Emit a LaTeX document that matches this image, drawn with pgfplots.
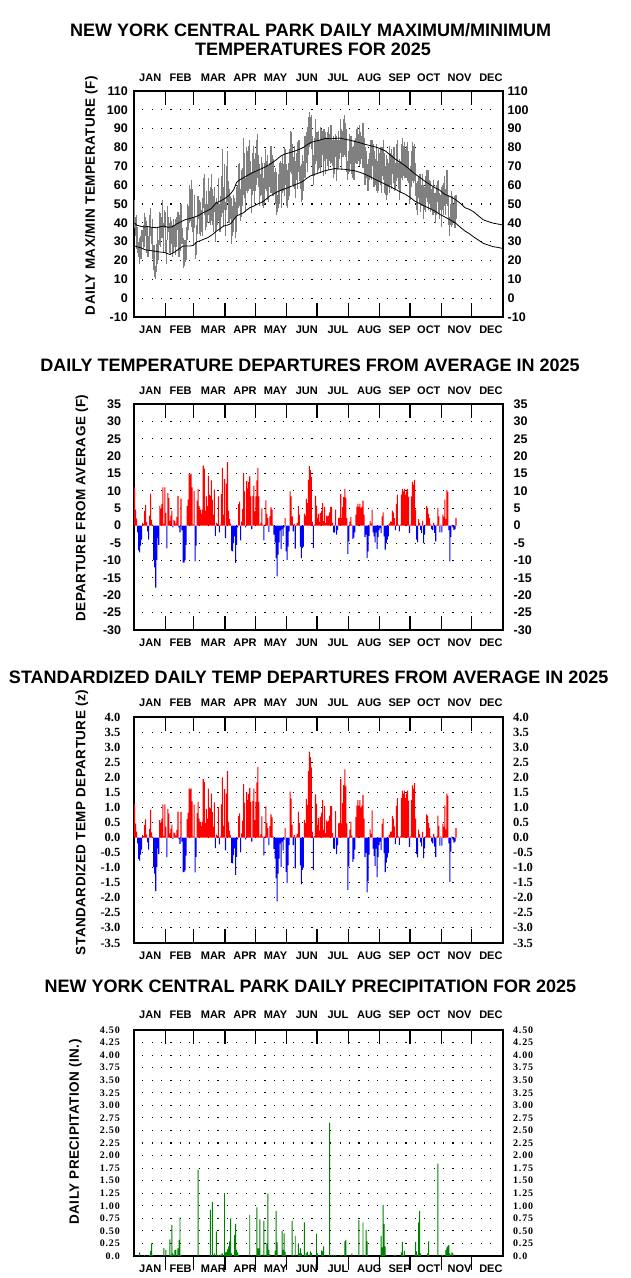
\documentclass[border=0pt]{standalone}
\usepackage{fontspec}
\setmainfont{Liberation Sans}
\newfontfamily\serifface{Liberation Serif}
\newfontfamily\serifspaced{Liberation Serif}[LetterSpace=8]
\newfontfamily\labface{Liberation Sans}[LetterSpace=3.3]
\usepackage{pgfplots}
\usepackage{pgfplotstable}
\pgfplotsset{compat=1.18}

\definecolor{bargreen}{RGB}{0,128,0}
\definecolor{bandgray}{RGB}{128,128,128}

\newcommand\ttlfont{\bfseries\fontsize{18}{20}\selectfont}
\newcommand\monfont{\bfseries\fontsize{11}{12}\selectfont}
\newcommand\labfont{\labface\bfseries\fontsize{13.5}{15}\selectfont}
\newcommand\tksans{\bfseries\fontsize{12.5}{13}\selectfont}
\newcommand\tkserif{\serifface\bfseries\fontsize{12.5}{13}\selectfont}
\newcommand\tksmall{\serifspaced\bfseries\fontsize{10}{11}\selectfont}

% day, departure (F), standardized departure, max, min
\pgfplotstableread{
d dep z hi lo
1 11.0 1.10 52 37
2 4.6 0.46 43 33
3 2.0 0.20 44 26
4 -1.9 -0.19 38 24
5 -7.1 -0.71 30 22
6 -7.7 -0.77 32 18
7 -5.7 -0.57 33 21
8 -4.0 -0.40 36 21
9 0.8 0.08 36 30
10 0.5 0.05 39 26
11 4.2 0.42 45 27
12 6.0 0.60 43 33
13 1.0 0.10 41 24
14 -1.6 -0.16 38 22
15 -4.0 -0.40 33 22
16 2.9 0.29 44 25
17 9.2 0.92 48 33
18 1.7 0.17 37 29
19 0.3 0.03 42 21
20 -9.8 -0.98 28 15
21 -12.0 -1.20 28 11
22 -17.8 -1.78 17 10
23 -9.8 -0.98 29 14
24 -3.6 -0.36 37 18
25 -5.5 -0.55 31 20
26 5.8 0.58 46 28
27 4.8 0.48 45 27
28 6.3 0.63 43 32
29 11.0 1.10 52 32
30 0.5 0.05 40 24
31 11.0 1.10 47 37
32 3.6 0.36 46 24
33 -6.5 -0.65 31 18
34 9.4 0.94 49 31
35 7.9 0.79 43 35
36 1.4 0.14 40 24
37 2.9 0.29 43 23
38 4.3 0.43 41 29
39 -0.5 -0.05 39 22
40 1.7 0.17 42 24
41 1.4 0.14 39 27
42 0.6 0.06 42 23
43 2.5 0.25 43 27
44 8.6 0.86 46 36
45 -0.5 -0.05 44 22
46 -1.9 -0.21 38 25
47 7.8 0.85 50 33
48 -1.3 -0.14 37 29
49 -10.6 -1.15 32 16
50 -10.6 -1.15 31 17
51 -10.0 -1.09 31 19
52 -5.5 -0.60 38 20
53 5.6 0.61 50 31
54 7.5 0.82 49 36
55 15.0 1.63 60 40
56 14.7 1.60 58 41
57 15.0 1.63 63 38
58 11.0 1.20 58 35
59 0.3 0.03 43 28
60 10.0 1.09 55 37
61 -10.3 -1.16 30 21
62 -5.7 -0.64 39 23
63 7.2 0.81 54 34
64 10.6 1.19 54 42
65 5.6 0.63 52 34
66 4.6 0.52 51 33
67 3.4 0.38 47 35
68 4.6 0.52 53 33
69 17.3 1.94 64 48
70 16.4 1.84 66 44
71 4.3 0.48 50 36
72 8.4 0.94 57 38
73 5.6 0.63 50 40
74 14.4 1.62 64 44
75 8.9 1.00 57 40
76 8.6 0.97 59 39
77 13.0 1.46 66 41
78 7.5 0.84 58 39
79 3.2 0.36 54 35
80 10.4 1.17 59 46
81 -2.9 -0.35 51 30
82 0.8 0.10 53 36
83 0.5 0.06 50 39
84 8.4 1.01 64 41
85 -1.9 -0.23 50 35
86 0.3 0.04 54 35
87 9.1 1.10 65 43
88 16.6 2.00 79 45
89 3.2 0.39 59 38
90 13.4 1.61 71 47
91 -3.6 -0.43 51 33
92 12.1 1.46 70 47
93 18.3 2.20 78 51
94 4.3 0.52 62 40
95 1.9 0.23 58 40
96 0.6 0.07 54 42
97 -7.2 -0.84 53 29
98 -7.4 -0.86 49 33
99 -5.0 -0.58 55 35
100 -3.1 -0.36 53 42
101 -10.7 -1.24 51 32
102 -5.5 -0.64 59 35
103 -0.5 -0.06 60 44
104 6.2 0.72 71 48
105 6.9 0.80 72 49
106 -4.2 -0.49 58 41
107 1.2 0.14 68 43
108 4.8 0.56 69 49
109 15.2 1.77 85 55
110 9.9 1.15 77 53
111 -0.5 -0.06 64 46
112 12.8 1.49 80 57
113 10.7 1.24 78 56
114 12.5 1.45 81 57
115 14.2 1.65 84 58
116 8.4 1.18 73 58
117 -1.0 -0.14 67 45
118 8.6 1.21 77 55
119 11.5 1.62 81 57
120 4.1 0.58 74 50
121 8.4 1.18 77 57
122 13.0 1.83 84 60
123 16.6 2.34 87 64
124 8.4 1.18 76 59
125 0.3 0.04 71 49
126 0.8 0.11 66 54
127 5.0 0.70 75 55
128 0.3 0.04 72 49
129 -4.2 -0.59 64 48
130 0.3 0.04 72 50
131 7.3 1.03 79 58
132 3.4 0.48 73 57
133 2.2 0.31 76 52
134 -1.8 -0.25 70 51
135 2.7 0.38 72 59
136 5.3 0.77 81 56
137 4.6 0.67 76 60
138 0.3 0.04 74 54
139 -2.6 -0.38 67 56
140 -4.8 -0.70 69 50
141 -9.3 -1.35 67 44
142 -14.6 -2.12 55 46
143 -8.3 -1.20 66 48
144 -4.8 -0.70 72 50
145 -1.4 -0.20 73 57
146 -6.7 -0.97 72 48
147 -1.0 -0.14 76 56
148 -3.0 -0.43 71 57
149 -0.5 -0.07 80 54
150 2.2 0.32 79 60
151 -7.4 -1.14 71 49
152 -9.8 -1.51 68 48
153 -6.0 -0.92 72 52
154 -1.6 -0.25 79 54
155 9.9 1.52 89 67
156 8.4 1.29 88 66
157 2.7 0.42 82 60
158 -1.6 -0.25 75 59
159 0.5 0.08 81 58
160 -6.6 -1.02 73 53
161 0.2 0.03 77 63
162 0.8 0.12 83 58
163 5.6 0.86 84 67
164 3.2 0.49 84 62
165 -6.0 -0.92 70 58
166 -9.3 -1.55 71 51
167 -6.4 -1.07 76 52
168 -6.0 -1.00 73 57
169 3.5 0.58 86 64
170 2.9 0.48 86 64
171 7.7 1.28 88 72
172 6.5 1.08 91 67
173 13.2 2.20 96 76
174 17.1 2.85 99 80
175 16.0 2.67 96 82
176 14.0 2.33 97 79
177 1.2 0.20 86 65
178 -6.4 -1.07 76 60
179 0.3 0.05 85 65
180 8.6 1.43 95 71
181 5.8 1.12 88 73
182 2.2 0.42 88 66
183 3.4 0.65 89 68
184 1.2 0.23 84 69
185 3.6 0.69 91 67
186 4.3 0.83 90 70
187 6.5 1.25 89 76
188 1.3 0.25 90 65
189 5.4 1.04 90 73
190 0.8 0.15 88 66
191 2.9 0.56 85 74
192 2.7 0.52 88 70
193 2.9 0.56 91 68
194 3.8 0.73 87 73
195 5.4 1.04 92 71
196 5.4 1.04 92 72
197 0.8 0.15 84 70
198 -1.9 -0.37 86 64
199 -2.0 -0.38 84 66
200 4.6 0.88 87 75
201 -2.6 -0.55 86 62
202 -1.2 -0.26 84 68
203 2.2 0.47 89 69
204 2.3 0.49 84 74
205 9.1 1.94 95 77
206 2.2 0.47 90 68
207 5.4 1.15 89 75
208 8.2 1.74 95 75
209 10.6 2.26 97 76
210 8.0 1.70 93 75
211 2.2 0.47 90 67
212 -8.2 -1.74 73 63
213 -4.5 -0.96 78 66
214 1.2 0.26 87 67
215 2.5 0.53 86 71
216 0.3 0.06 86 66
217 -3.8 -0.81 80 64
218 -3.4 -0.72 81 63
219 -1.9 -0.40 84 63
220 3.2 0.68 85 72
221 5.4 1.06 90 71
222 6.3 1.24 91 71
223 5.4 1.06 87 73
224 6.3 1.24 92 70
225 5.1 1.00 88 71
226 5.4 1.06 86 74
227 7.2 1.41 93 69
228 3.2 0.63 85 69
229 -3.3 -0.65 80 60
230 -2.6 -0.51 78 64
231 -9.3 -1.82 71 57
232 -7.4 -1.45 74 57
233 -2.9 -0.57 77 63
234 1.4 0.27 84 64
235 0.6 0.12 84 63
236 4.6 0.90 84 70
237 -1.9 -0.37 82 59
238 -3.1 -0.61 78 59
239 -4.8 -0.94 74 60
240 -1.9 -0.37 82 57
241 -6.7 -1.31 73 56
242 -3.3 -0.65 79 57
243 -1.3 -0.25 77 62
244 -0.7 -0.14 80 60
245 -2.1 -0.41 80 56
246 2.7 0.45 80 65
247 3.8 0.63 84 63
248 -3.1 -0.52 77 56
249 -6.9 -1.15 70 55
250 -5.0 -0.83 76 52
251 -4.0 -0.67 74 55
252 -3.1 -0.52 72 59
253 0.6 0.10 81 56
254 1.2 0.20 77 60
255 1.2 0.20 79 58
256 4.3 0.72 76 66
257 3.8 0.63 80 61
258 2.2 0.37 80 57
259 -1.3 -0.22 72 58
260 6.3 1.05 82 62
261 8.9 1.31 84 64
262 0.3 0.04 72 58
263 -1.6 -0.24 74 52
264 0.3 0.04 73 56
265 8.9 1.31 82 64
266 10.6 1.56 85 63
267 9.9 1.46 81 65
268 10.6 1.56 83 64
269 8.9 1.31 79 64
270 9.9 1.46 81 64
271 10.6 1.56 83 62
272 8.3 1.22 78 61
273 -2.1 -0.31 68 50
274 0.3 0.04 70 52
275 8.4 1.24 78 59
276 12.6 1.73 83 62
277 11.8 1.62 81 61
278 13.2 1.81 82 62
279 4.6 0.63 72 54
280 -4.0 -0.55 61 47
281 -4.8 -0.66 62 44
282 1.9 0.26 65 53
283 0.8 0.11 66 50
284 -1.2 -0.16 66 46
285 -2.1 -0.29 60 49
286 1.4 0.19 66 49
287 -5.0 -0.68 60 42
288 -2.6 -0.36 59 47
289 0.3 0.04 65 46
290 5.6 0.77 68 53
291 5.1 0.73 68 51
292 3.4 0.49 68 47
293 2.2 0.31 63 50
294 0.3 0.04 62 46
295 -1.0 -0.14 58 47
296 -1.3 -0.19 59 44
297 0.8 0.11 63 44
298 -2.1 -0.30 56 45
299 -4.5 -0.64 56 40
300 0.3 0.04 60 44
301 5.1 0.73 62 51
302 2.7 0.39 63 45
303 -1.9 -0.27 56 42
304 0.3 0.04 55 47
305 -1.9 -0.27 59 38
306 3.2 0.46 60 47
307 2.5 0.36 61 44
308 7.5 1.07 65 49
309 1.9 0.27 58 44
310 10.2 1.46 68 50
311 9.7 1.39 68 49
312 -1.3 -0.19 55 39
313 -10.3 -1.47 43 33
314 -3.3 -0.47 50 39
315 0.3 0.04 57 38
316 -0.5 -0.07 54 39
317 -1.2 -0.17 50 41
318 -1.0 -0.14 54 37
319 2.2 0.31 55 42
}\daily

% day, precipitation (in.)
\pgfplotstableread{
d p
6 0.07
11 0.02
16 0.02
17 0.10
18 0.25
19 0.02
30 0.16
32 0.12
36 0.33
37 0.02
38 0.62
39 0.05
41 0.12
42 0.12
44 0.15
45 0.32
46 0.77
47 0.02
64 1.72
76 0.92
78 1.08
80 0.05
82 0.49
84 0.02
86 0.02
87 0.03
88 0.05
90 1.25
91 0.07
92 0.08
93 0.13
94 0.19
95 0.29
96 0.75
97 0.05
100 0.42
101 0.64
102 0.12
103 0.07
104 0.02
115 0.82
117 0.02
122 0.97
123 0.15
124 0.15
125 0.73
126 0.02
129 0.70
130 0.02
132 0.25
133 1.24
134 0.12
135 0.03
140 0.10
141 0.90
142 0.27
147 0.50
148 0.12
149 0.45
150 0.08
157 0.70
158 0.02
160 0.40
163 0.25
164 0.05
165 0.15
166 0.05
169 0.67
170 0.02
171 0.05
172 0.08
175 0.09
176 0.06
181 0.44
182 0.05
186 0.11
187 0.09
188 0.19
194 2.65
196 0.02
198 0.02
200 0.02
205 0.02
206 0.02
209 0.29
210 0.32
216 0.05
223 0.72
227 0.67
230 0.52
231 0.29
245 0.40
246 0.17
247 1.02
248 0.64
249 0.19
258 0.02
259 0.02
265 0.07
266 0.28
267 0.02
268 0.10
279 0.28
280 0.09
282 0.67
283 0.90
284 0.05
291 0.05
292 0.29
301 1.84
305 0.02
306 0.02
309 0.12
310 0.17
311 0.20
312 0.22
313 0.05
315 0.07
316 0.05
}\precip

\pgfplotsset{
  panel/.style={
    scale only axis, width=369pt, height=226pt,
    xmin=0.5, xmax=365.5,
    xtick={31.5,59.5,90.5,120.5,151.5,181.5,212.5,243.5,273.5,304.5,334.5},
    xticklabels={},
    tick align=inside, major tick length=14pt,
    xtick style={black, line width=1.1pt},
    ytick style={draw=none},
    axis line style={black, line width=1.2pt},
    yticklabel style={anchor=east, inner sep=0pt},
    anchor=south west,
  },
  rlab/.style={
    scale only axis, width=369pt, height=226pt,
    xmin=0.5, xmax=365.5, xtick=\empty,
    axis line style={draw=none}, major tick length=0pt,
    yticklabel pos=right,
    yticklabel style={anchor=west, inner sep=0pt},
    anchor=south west,
  },
}
\tikzset{dotgrid/.style={black, line width=1.1pt, dash pattern=on 1.2pt off 8.2pt}}

\newcommand\monthrow[1]{%
  \foreach \mx/\mn in {150.2/JAN,180.6/FEB,213.4/MAR,245/APR,275.5/MAY,306.8/JUN,337.9/JUL,369.3/AUG,399.6/SEP,428.8/OCT,459.5/NOV,490.9/DEC}{%
    \node[font=\monfont, inner sep=0pt] at (\mx pt,#1 pt) {\mn};}}

\begin{document}
\begin{tikzpicture}
\path (0pt,0pt) rectangle (630pt,1278pt);

% ---------- panel 1: max/min temperatures ----------
\node[font=\ttlfont, inner sep=0pt] at (310.7pt,1248pt) {NEW YORK CENTRAL PARK DAILY MAXIMUM/MINIMUM};
\node[font=\ttlfont, inner sep=0pt] at (313pt,1229pt) {TEMPERATURES FOR 2025};
\node[font=\labfont, inner sep=0pt, rotate=90] at (91.4pt,1082.5pt) {DAILY MAX/MIN TEMPERATURE (F)};
\monthrow{1200}
\monthrow{948}
\begin{axis}[panel, at={(134pt,961pt)},
  ymin=-10, ymax=110,
  ytick={-10,0,10,20,30,40,50,60,70,80,90,100,110},
  yticklabels={-10,0,10,20,30,40,50,60,70,80,90,100,110},
  yticklabel style={font=\tksans, xshift=-6pt}]
  \pgfplotsinvokeforeach{0,10,20,30,40,50,60,70,80,90,100}{
    \draw[dotgrid] (axis cs:8.7,#1) -- (axis cs:358,#1);}
  \addplot[draw=none, mark=none, forget plot,
    error bars/.cd, y dir=plus, y explicit, error mark=none,
    error bar style={draw=bandgray, line width=1.05pt}]
    table[x=d, y=lo, y error expr=\thisrow{hi}-\thisrow{lo}] {\daily};
  \addplot[black, line width=0.8pt, mark=none] coordinates {
    (1,40.0)(3,38.8)(7,38.2)(10,37.8)(14,38.0)(18,37.6)(23,37.4)(27,38.0)(30,38.3)(34,37.6)
    (38,37.8)(43,39.5)(47,40.6)(51,41.6)(56,42.4)(60,43.0)(64,43.8)(69,45.4)(73,46.4)(77,47.6)
    (82,50.7)(86,51.6)(90,52.8)(95,54.8)(99,57.5)(102,61.5)(105,62.8)(109,64.0)(113,65.2)(117,66.4)
    (122,67.6)(126,68.6)(130,69.6)(135,71.1)(139,72.6)(142,73.8)(146,75.6)(150,76.6)(155,77.3)(159,78.0)
    (163,78.8)(168,80.0)(172,81.6)(176,82.8)(181,83.5)(186,84.2)(190,84.9)(195,84.6)(199,84.8)(204,85.0)
    (209,84.4)(214,83.9)(219,83.2)(224,82.5)(229,81.7)(234,81.0)(239,80.3)(244,79.4)(249,78.2)(254,76.0)
    (259,73.8)(264,72.0)(269,70.2)(274,68.0)(278,66.1)(283,64.2)(288,62.2)(293,60.4)(298,58.7)(303,57.3)
    (308,55.1)(313,54.0)(318,52.5)(323,50.5)(328,48.0)(332,47.2)(336,46.0)(341,43.8)(346,41.6)(351,40.6)
    (356,39.8)(360,39.4)(365,38.9)};
  \addplot[black, line width=0.8pt, mark=none] coordinates {
    (1,27.7)(4,27.2)(7,26.8)(10,26.0)(13,25.5)(17,25.3)(20,25.0)(23,24.8)(26,24.5)(30,24.3)
    (33,23.8)(36,23.2)(40,24.2)(43,25.4)(46,26.5)(49,27.7)(53,27.7)(56,27.7)(59,28.0)(63,30.0)
    (66,30.5)(69,31.2)(73,32.0)(76,33.0)(79,34.2)(82,35.6)(86,37.0)(89,38.3)(93,38.8)(96,39.5)
    (99,41.5)(102,43.6)(105,44.4)(109,45.4)(112,46.8)(115,48.0)(119,48.9)(122,49.8)(126,50.7)(129,51.6)
    (132,53.0)(135,54.3)(139,55.4)(142,56.4)(145,57.1)(148,57.8)(152,58.5)(155,59.2)(158,59.8)(161,60.5)
    (165,61.3)(168,62.2)(171,63.5)(175,64.9)(178,65.5)(181,66.1)(185,66.8)(189,67.6)(194,68.2)(199,68.8)
    (204,68.6)(209,68.4)(214,68.0)(219,67.6)(224,66.8)(229,65.8)(234,64.5)(239,63.1)(244,61.8)(249,60.5)
    (254,59.2)(259,57.8)(264,56.4)(269,55.1)(274,53.4)(278,51.6)(283,50.2)(288,48.9)(293,47.6)(298,46.3)
    (303,44.5)(308,43.1)(313,41.6)(318,40.1)(323,37.8)(328,35.6)(332,34.3)(336,32.7)(341,30.9)(346,29.1)
    (351,28.2)(356,27.3)(360,27.0)(365,26.4)};
\end{axis}
\begin{axis}[rlab, at={(134pt,961pt)},
  ymin=-10, ymax=110,
  ytick={-10,0,10,20,30,40,50,60,70,80,90,100,110},
  yticklabels={-10,0,10,20,30,40,50,60,70,80,90,100,110},
  yticklabel style={font=\tksans, xshift=4.5pt}]
\end{axis}

% ---------- panel 2: departures ----------
\node[font=\ttlfont, inner sep=0pt] at (310pt,912.3pt) {DAILY TEMPERATURE DEPARTURES FROM AVERAGE IN 2025};
\node[font=\labfont, inner sep=0pt, rotate=90] at (82pt,770pt) {DEPARTURE FROM AVERAGE (F)};
\monthrow{887}
\monthrow{635}
\begin{axis}[panel, at={(134pt,648pt)},
  ymin=-30, ymax=35,
  ytick={-30,-25,-20,-15,-10,-5,0,5,10,15,20,25,30,35},
  yticklabels={-30,-25,-20,-15,-10,-5,0,5,10,15,20,25,30,35},
  yticklabel style={font=\tksans, xshift=-12.7pt}]
  \pgfplotsinvokeforeach{-25,-20,-15,-10,-5,0,5,10,15,20,25,30}{
    \draw[dotgrid] (axis cs:8.7,#1) -- (axis cs:358,#1);}
  \addplot[ybar, bar width=1.05, bar shift=0pt, fill=red, draw=none,
    restrict y to domain=0:40] table[x=d, y=dep] {\daily};
  \addplot[ybar, bar width=1.05, bar shift=0pt, fill=blue, draw=none,
    restrict y to domain=-40:0] table[x=d, y=dep] {\daily};
\end{axis}
\begin{axis}[rlab, at={(134pt,648pt)},
  ymin=-30, ymax=35,
  ytick={-30,-25,-20,-15,-10,-5,0,5,10,15,20,25,30,35},
  yticklabels={-30,-25,-20,-15,-10,-5,0,5,10,15,20,25,30,35},
  yticklabel style={font=\tksans, xshift=10.5pt}]
\end{axis}

% ---------- panel 3: standardized departures ----------
\node[font=\ttlfont, inner sep=0pt] at (308.7pt,600.7pt) {STANDARDIZED DAILY TEMP DEPARTURES FROM AVERAGE IN 2025};
\node[font=\labfont, inner sep=0pt, rotate=90] at (82pt,455.5pt) {STANDARDIZED TEMP DEPARTURE (z)};
\monthrow{575}
\monthrow{322}
\begin{axis}[panel, at={(134pt,335pt)},
  ymin=-3.5, ymax=4,
  ytick={-3.5,-3,-2.5,-2,-1.5,-1,-0.5,0,0.5,1,1.5,2,2.5,3,3.5,4},
  yticklabels={-3.5,-3.0,-2.5,-2.0,-1.5,-1.0,-0.5,0.0,0.5,1.0,1.5,2.0,2.5,3.0,3.5,4.0},
  yticklabel style={font=\tkserif, xshift=-13.5pt}]
  \pgfplotsinvokeforeach{-3,-2.5,-2,-1.5,-1,-0.5,0,0.5,1,1.5,2,2.5,3,3.5}{
    \draw[dotgrid] (axis cs:8.7,#1) -- (axis cs:358,#1);}
  \addplot[ybar, bar width=1.05, bar shift=0pt, fill=red, draw=none,
    restrict y to domain=0:5] table[x=d, y=z] {\daily};
  \addplot[ybar, bar width=1.05, bar shift=0pt, fill=blue, draw=none,
    restrict y to domain=-5:0] table[x=d, y=z] {\daily};
\end{axis}
\begin{axis}[rlab, at={(134pt,335pt)},
  ymin=-3.5, ymax=4,
  ytick={-3.5,-3,-2.5,-2,-1.5,-1,-0.5,0,0.5,1,1.5,2,2.5,3,3.5,4},
  yticklabels={-3.5,-3.0,-2.5,-2.0,-1.5,-1.0,-0.5,0.0,0.5,1.0,1.5,2.0,2.5,3.0,3.5,4.0},
  yticklabel style={font=\tkserif, xshift=10pt}]
\end{axis}

% ---------- panel 4: precipitation ----------
\node[font=\ttlfont, inner sep=0pt] at (310.4pt,291.3pt) {NEW YORK CENTRAL PARK DAILY PRECIPITATION FOR 2025};
\node[font=\labfont, inner sep=0pt, rotate=90] at (75.5pt,146pt) {DAILY PRECIPITATION (IN.)};
\monthrow{263}
\monthrow{9}
\begin{axis}[panel, at={(134pt,22pt)}, clip=false, xtick pos=right,
  ymin=0, ymax=4.5,
  ytick={0,0.25,0.5,0.75,1,1.25,1.5,1.75,2,2.25,2.5,2.75,3,3.25,3.5,3.75,4,4.25,4.5},
  yticklabels={0.0,0.25,0.50,0.75,1.00,1.25,1.50,1.75,2.00,2.25,2.50,2.75,3.00,3.25,3.50,3.75,4.00,4.25,4.50},
  yticklabel style={font=\tksmall, xshift=-14pt}]
  \pgfplotsinvokeforeach{0.25,0.5,0.75,1,1.25,1.5,1.75,2,2.25,2.5,2.75,3,3.25,3.5,3.75,4,4.25}{
    \draw[dotgrid] (axis cs:8.7,#1) -- (axis cs:358,#1);}
  \pgfplotsinvokeforeach{31.5,59.5,90.5,120.5,151.5,181.5,212.5,243.5,273.5,304.5,334.5}{
    \draw[black, line width=1.1pt] (axis cs:#1,0) -- ++(0pt,-14pt);}
  \addplot[ybar, bar width=0.95, bar shift=0pt, fill=bargreen, draw=none]
    table[x=d, y=p] {\precip};
\end{axis}
\begin{axis}[rlab, at={(134pt,22pt)},
  ymin=0, ymax=4.5,
  ytick={0,0.25,0.5,0.75,1,1.25,1.5,1.75,2,2.25,2.5,2.75,3,3.25,3.5,3.75,4,4.25,4.5},
  yticklabels={0.0,0.25,0.50,0.75,1.00,1.25,1.50,1.75,2.00,2.25,2.50,2.75,3.00,3.25,3.50,3.75,4.00,4.25,4.50},
  yticklabel style={font=\tksmall, xshift=10pt}]
\end{axis}
\end{tikzpicture}
\end{document}
